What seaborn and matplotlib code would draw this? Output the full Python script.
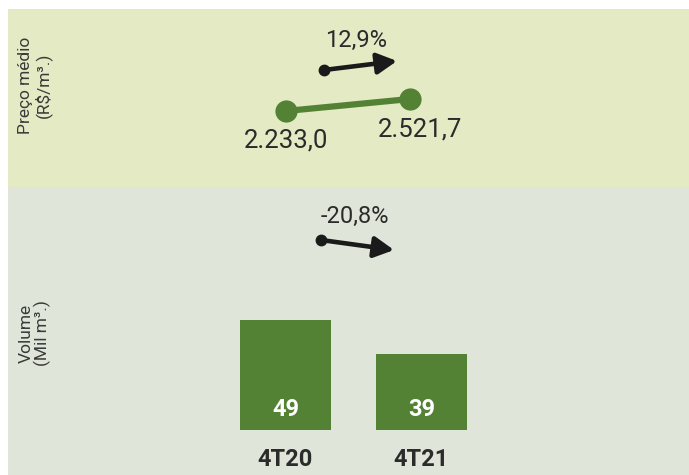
import matplotlib
matplotlib.use("Agg")
import matplotlib.pyplot as plt
from matplotlib.patches import Rectangle, FancyArrowPatch
import seaborn as sns
import pandas as pd

# Data
periods = ["4T20", "4T21"]
preco_medio = [2233.0, 2521.7]   # R$/m³
volume = [49, 39]                # mil m³
var_preco = "12,9%"
var_volume = "-20,8%"

GREEN = "#548235"
TOP_BG = "#e3eac4"
BOTTOM_BG = "#dfe5d8"
TEXT = "#2b2b2b"

sns.set_theme(style="white")
plt.rcParams["font.family"] = ["Roboto", "DejaVu Sans"]

W, H = 689, 475
fig = plt.figure(figsize=(W / 100, H / 100), dpi=100)
fig.patch.set_facecolor("white")


def px_box(x0, y0, x1, y1):
    """Figure-fraction box from pixel edges (y measured from the top)."""
    return [x0 / W, 1 - y1 / H, (x1 - x0) / W, (y1 - y0) / H]


def px(x, y):
    return x / W, 1 - y / H


def br_fmt(v):
    s = f"{v:,.1f}"
    return s.replace(",", "X").replace(".", ",").replace("X", ".")


def clear_frame(ax):
    for s in ax.spines.values():
        s.set_visible(False)
    ax.set_yticks([])
    ax.set_xlabel("")
    ax.set_ylabel("")


# Lower panel background
fig.patches.append(Rectangle((8 / W, 0), (W - 8) / W, (H - 187) / H,
                             transform=fig.transFigure, facecolor=BOTTOM_BG,
                             edgecolor="none", zorder=-5))

# ---- Average price panel ----
ax_top = fig.add_axes(px_box(8, 9, W, 187))
ax_top.set_facecolor(TOP_BG)
df_price = pd.DataFrame({"pos": [0, 1], "preco": preco_medio})
sns.lineplot(data=df_price, x="pos", y="preco", ax=ax_top, color=GREEN,
             linewidth=4.5, marker="o", markersize=16, markeredgewidth=0)
ax_top.set_xlim(-2.242, 3.25)
ax_top.set_ylim(404.4, 4686.9)
offsets = [(0, -21), (7, -22)]
for i, v in enumerate(preco_medio):
    ax_top.annotate(br_fmt(v), xy=(i, v), xytext=offsets[i],
                    textcoords="offset points", ha="center", va="center",
                    fontsize=18.5, fontweight="normal", color=TEXT)
clear_frame(ax_top)
ax_top.set_xticks([])

# ---- Volume panel ----
ax_bar = fig.add_axes(px_box(8, 187, W, 430))
ax_bar.patch.set_alpha(0)
df_vol = pd.DataFrame({"periodo": periods, "volume": volume})
sns.barplot(data=df_vol, x="periodo", y="volume", ax=ax_bar, color=GREEN,
            saturation=1, width=0.67, order=periods, linewidth=0,
            edgecolor=GREEN)
ax_bar.set_xlim(-2.040, 2.967)
ax_bar.set_ylim(16.6, 88.1)
for i, v in enumerate(volume):
    ax_bar.annotate(f"{v}", xy=(i, 16.6), xytext=(0, 14.5),
                    textcoords="offset points", ha="center", va="center",
                    fontsize=17, fontweight="bold", color="white")
clear_frame(ax_bar)
ax_bar.tick_params(axis="x", length=0, pad=13)
for lab in ax_bar.get_xticklabels():
    lab.set_fontsize(17)
    lab.set_fontweight("bold")
    lab.set_color(TEXT)

# Panel titles
for (cx, cy), title in [((35, 85), "Preço médio\n(R$/m³.)"),
                        ((35, 333), "Volume\n(Mil m³.)")]:
    fig.text(*px(cx, cy), title, rotation=90, ha="center", va="center",
             multialignment="center", fontsize=12.5, fontweight="normal",
             color="#3a3a3a", linespacing=1.05)

# Variation annotations with arrows
fig.text(*px(356, 40), var_preco, ha="center", va="center", fontsize=17,
         fontweight="normal", color=TEXT)
fig.text(*px(355, 216), var_volume, ha="center", va="center", fontsize=17,
         fontweight="normal", color=TEXT)

for (x0, y0), (x1, y1) in [((324, 70), (397, 61)), ((321, 240), (394, 250))]:
    arr = FancyArrowPatch(px(x0, y0), px(x1, y1), transform=fig.transFigure,
                          arrowstyle="-|>,head_length=0.85,head_width=0.45",
                          mutation_scale=14, linewidth=3.3, color="#1a1a1a",
                          shrinkA=0, shrinkB=0, zorder=5)
    fig.patches.append(arr)
    fig.add_artist(plt.Line2D([x0 / W], [1 - y0 / H], marker="o",
                              markersize=7.5, color="#1a1a1a",
                              transform=fig.transFigure, zorder=6))

fig.savefig("out.png", dpi=100, facecolor=fig.get_facecolor())
